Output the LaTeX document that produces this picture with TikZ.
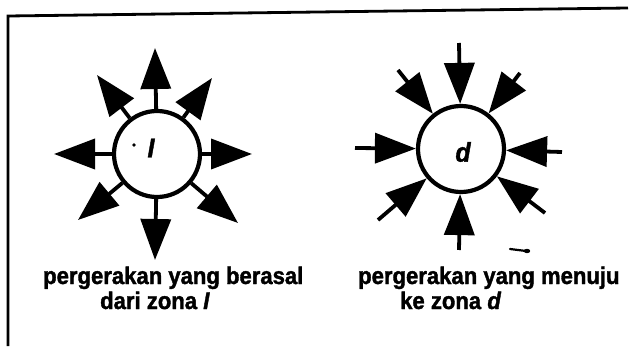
\documentclass[tikz,border=0pt]{standalone}
\usepackage{fontspec}
\setmainfont{Liberation Sans}[FakeStretch=0.92,BoldFeatures={FakeBold=1.5},BoldItalicFeatures={FakeBold=1.5}]
\usetikzlibrary{arrows.meta}
\tikzset{
  zone/.style={circle,draw,line width=4.2pt,minimum size=86pt,inner sep=0pt},
  outarrow/.style={line width=3.8pt,-{Triangle[length=41pt,width=30pt]}},
  inarrow/.style={line width=3.8pt,-{Triangle[length=41pt,width=30pt]}},
  lbl/.style={anchor=base west,inner sep=0pt,font=\fontsize{24}{25}\selectfont\bfseries},
  zlbl/.style={inner sep=0pt,font=\fontsize{27}{27}\selectfont\bfseries\itshape}
}
\begin{document}
\begin{tikzpicture}[x=1pt,y=1pt]
\useasboundingbox (0,0) rectangle (630,346);
% frame
\draw[line width=2.8pt] (8,0) -- (8,330) -- (628,338);

% left figure
\node[zone] (L) at (157,192) {};
\node[zlbl] (Li) at (151,198) {I};
\fill (134,201) circle (1.8pt);
\coordinate (L1) at (155,298);
\coordinate (L2) at (212,268);
\coordinate (L3) at (252,192);
\coordinate (L4) at (238,123);
\coordinate (L5) at (155,86);
\coordinate (L6) at (78,126);
\coordinate (L7) at (54,192);
\coordinate (L8) at (97,271);
\foreach \t in {L1,L2,L3,L4,L5,L6,L7,L8}
  \draw[outarrow] (L) -- (\t);

% right figure
\node[zone] (R) at (461,197) {};
\node[zlbl] (Rd) at (463,194) {d};
\coordinate (R1) at (459,303);
\coordinate (R2) at (520,273);
\coordinate (R3) at (562,194);
\coordinate (R4) at (545,133);
\coordinate (R5) at (459,96);
\coordinate (R6) at (378,126);
\coordinate (R7) at (355,198);
\coordinate (R8) at (398,276);
\foreach \t in {R1,R2,R3,R4,R5,R6,R7,R8}
  \draw[inarrow] (\t) -- (R);

% stray mark
\draw[line width=2.2pt,line cap=round] (510,97) -- (526,95);
\fill (527,95) ellipse (3.2pt and 2.2pt);

% labels
\node[lbl] (t1) at (43,62) {pergerakan yang berasal};
\node[lbl] (t2) at (100,37) {dari zona \textit{I}};
\node[lbl] (t3) at (358,62) {pergerakan yang menuju};
\node[lbl] (t4) at (400,37) {ke zona \textit{d}};
\end{tikzpicture}
\end{document}
